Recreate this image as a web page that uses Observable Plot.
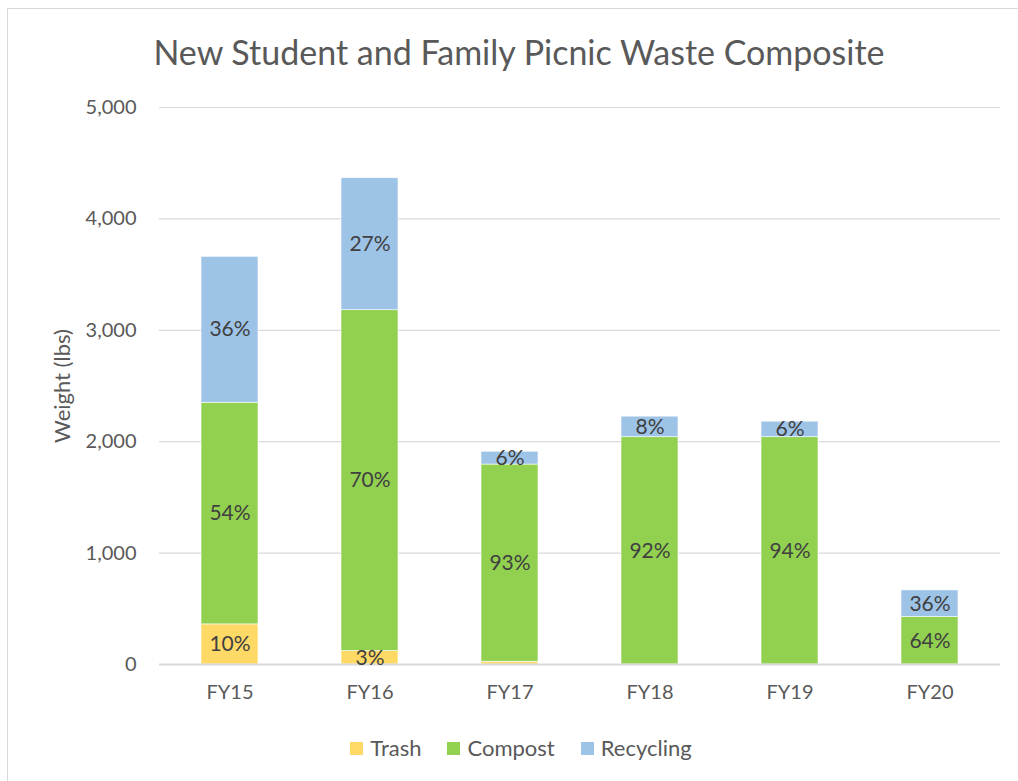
<!DOCTYPE html>
<html>
<head>
<meta charset="utf-8">
<script src="https://cdn.jsdelivr.net/npm/d3@7"></script>
<script src="https://cdn.jsdelivr.net/npm/@observablehq/plot@0.6"></script>
<style>
  html, body { margin: 0; padding: 0; background: #fff; }
  body { width: 1018px; height: 781px; overflow: hidden; position: relative; font-family: Lato, "Open Sans", sans-serif; }
  #frame { position: absolute; left: 7px; top: 8px; width: 1100px; height: 900px; border-left: 1.5px solid #d9d9d9; border-top: 1.5px solid #d9d9d9; box-sizing: border-box; }
  #title { position: absolute; left: 0; width: 1038px; top: 32px; text-align: center; font-size: 34px; color: #595959; line-height: 40px; }
  #chart { position: absolute; left: 0; top: 95px; }
  #legend { position: absolute; top: 735px; left: 0; width: 1042px; display: flex; justify-content: center; gap: 26px; font-size: 22px; color: #595959; line-height: 26px; }
  #legend span.item { display: inline-flex; align-items: center; gap: 7px; }
  #legend span.sw { width: 13px; height: 13px; display: inline-block; }
</style>
</head>
<body>
<div id="frame"></div>
<div id="title">New Student and Family Picnic Waste Composite</div>
<div id="chart"></div>
<div id="legend"></div>
<script>
const years = ["FY15", "FY16", "FY17", "FY18", "FY19", "FY20"];
const types = ["Trash", "Compost", "Recycling"];
const colors = ["#FFD966", "#92D050", "#9DC3E6"];
const trash = [360, 120, 25, 0, 0, 0];
const compost = [1990, 3060, 1770, 2040, 2040, 425];
const recycling = [1310, 1185, 115, 185, 140, 240];
const yTicks = [0, 1000, 2000, 3000, 4000, 5000];

const series = [trash, compost, recycling];
const data = [];
years.forEach((yr, i) => {
  const total = trash[i] + compost[i] + recycling[i];
  types.forEach((t, j) => {
    const v = series[j][i];
    const pct = Math.round(v / total * 100);
    data.push({year: yr, type: t, value: v, label: pct >= 3 ? pct + "%" : ""});
  });
});

const font = "Lato, 'Open Sans', sans-serif";
const chart = Plot.plot({
  width: 1018,
  height: 620,
  marginTop: 12,
  marginBottom: 51,
  marginLeft: 159,
  marginRight: 18,
  style: {fontFamily: font, color: "#595959", background: "transparent"},
  x: {domain: years, paddingInner: 0.59, paddingOuter: 0.295},
  y: {domain: [0, 5000]},
  color: {domain: types, range: colors},
  marks: [
    Plot.gridY(yTicks.slice(1), {stroke: "#d9d9d9", strokeOpacity: 1, strokeWidth: 1.2}),
    Plot.axisY(yTicks, {tickSize: 0, tickPadding: 23, tickFormat: d3.format(","), fontSize: 20, fill: "#595959", label: null}),
    Plot.text(["Weight (lbs)"], {frameAnchor: "left", textAnchor: "middle", dx: -97, rotate: -90, fontSize: 22, fill: "#595959"}),
    Plot.axisX(years, {tickSize: 0, tickPadding: 20, fontSize: 20, fill: "#595959", label: null}),
    Plot.barY(data, {x: "year", y: "value", fill: "type", z: "type", order: types, stroke: "#ffffff", strokeWidth: 0.6}),
    Plot.ruleY([0], {stroke: "#d9d9d9", strokeWidth: 2}),
    Plot.text(data, Plot.stackY({x: "year", y: "value", z: "type", order: types, text: "label", fill: "#404040", fontSize: 21}))
  ]
});
document.getElementById("chart").appendChild(chart);

const legend = document.getElementById("legend");
types.forEach((t, j) => {
  const item = document.createElement("span");
  item.className = "item";
  const sw = document.createElement("span");
  sw.className = "sw";
  sw.style.background = colors[j];
  item.appendChild(sw);
  item.appendChild(document.createTextNode(t));
  legend.appendChild(item);
});
</script>
</body>
</html>
